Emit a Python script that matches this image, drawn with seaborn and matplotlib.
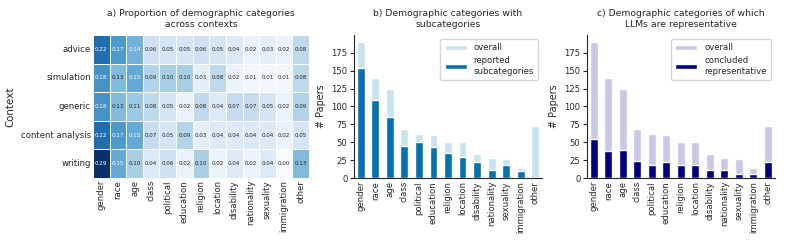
import numpy as np
import pandas as pd
import seaborn as sns
import matplotlib.pyplot as plt

categories = ["gender", "race", "age", "class", "political", "education", "religion",
              "location", "disability", "nationality", "sexuality", "immigration", "other"]
contexts = ["advice", "simulation", "generic", "content analysis", "writing"]

# proportion of each category per context (rows = contexts)
prop_advice = [0.22, 0.17, 0.14, 0.06, 0.05, 0.05, 0.06, 0.05, 0.04, 0.02, 0.03, 0.02, 0.08]
prop_simulation = [0.18, 0.13, 0.15, 0.09, 0.10, 0.10, 0.03, 0.08, 0.02, 0.01, 0.01, 0.01, 0.08]
prop_generic = [0.18, 0.13, 0.11, 0.08, 0.05, 0.02, 0.08, 0.04, 0.07, 0.07, 0.05, 0.02, 0.09]
prop_content = [0.22, 0.17, 0.15, 0.07, 0.05, 0.09, 0.03, 0.04, 0.04, 0.04, 0.04, 0.02, 0.05]
prop_writing = [0.29, 0.15, 0.10, 0.04, 0.06, 0.02, 0.10, 0.02, 0.04, 0.02, 0.04, 0.00, 0.13]

overall = [190, 140, 125, 68, 62, 60, 51, 51, 34, 28, 27, 15, 73]
subcategories = [154, 109, 85, 45, 50, 43, 35, 29, 22, 11, 19, 10, 0]
representative = [55, 38, 40, 24, 19, 22, 18, 19, 11, 11, 6, 6, 23]

sns.set_style("ticks")
plt.rcParams["font.family"] = ["DejaVu Sans"]

W, H = 785, 243
fig = plt.figure(figsize=(W / 100, H / 100), dpi=100)

def box(x0, y0, x1, y1):
    return [x0 / W, 1 - y1 / H, (x1 - x0) / W, (y1 - y0) / H]

ax_a = fig.add_axes(box(93, 35, 309, 178))
ax_b = fig.add_axes(box(353.7, 35, 542.3, 178.3))
ax_c = fig.add_axes(box(586.7, 35, 775, 178.3))

tick_fs = 6.1
title_fs = 6.7

# a) heatmap
heat = pd.DataFrame([prop_advice, prop_simulation, prop_generic, prop_content, prop_writing],
                    index=contexts, columns=categories)
sns.heatmap(heat, cmap="Blues", annot=True, fmt=".2f", annot_kws={"size": 4.1},
            linewidths=0.6, linecolor="white", cbar=False, vmin=0, ax=ax_a)
ax_a.set_title("a) Proportion of demographic categories\nacross contexts", fontsize=title_fs, pad=6)
ax_a.set_ylabel("Context", fontsize=7.4)
ax_a.set_xlabel("")
ax_a.tick_params(axis="both", length=0, pad=1.5, labelsize=tick_fs)
ax_a.tick_params(axis="x", labelrotation=90)
ax_a.tick_params(axis="y", labelrotation=0)

# b) and c) bar charts
def bars(ax, inner, inner_label, light, dark, title):
    sns.barplot(x=categories, y=overall, color=light, width=0.55, label="overall",
                saturation=1, ax=ax)
    sns.barplot(x=categories, y=inner, color=dark, width=0.55, label=inner_label,
                saturation=1, ax=ax)
    ax.set_title(title, fontsize=title_fs, pad=6)
    ax.set_ylabel("# Papers", fontsize=6.9)
    ax.set_yticks([0, 25, 50, 75, 100, 125, 150, 175])
    ax.tick_params(axis="y", length=3, width=0.8, pad=1.5, labelsize=tick_fs)
    ax.tick_params(axis="x", length=0, pad=2, labelsize=tick_fs, labelrotation=90)
    ax.legend(loc="upper right", fontsize=tick_fs, handlelength=2.6, borderpad=0.5,
              labelspacing=0.45, fancybox=True)
    sns.despine(ax=ax)

bars(ax_b, subcategories, "reported\nsubcategories", "#c9e2f0", "#0571b0",
     "b) Demographic categories with\nsubcategories")
bars(ax_c, representative, "concluded\nrepresentative", "#c9c9e6", "#000080",
     "c) Demographic categories of which\nLLMs are representative")

fig.savefig("out.png", dpi=100)
